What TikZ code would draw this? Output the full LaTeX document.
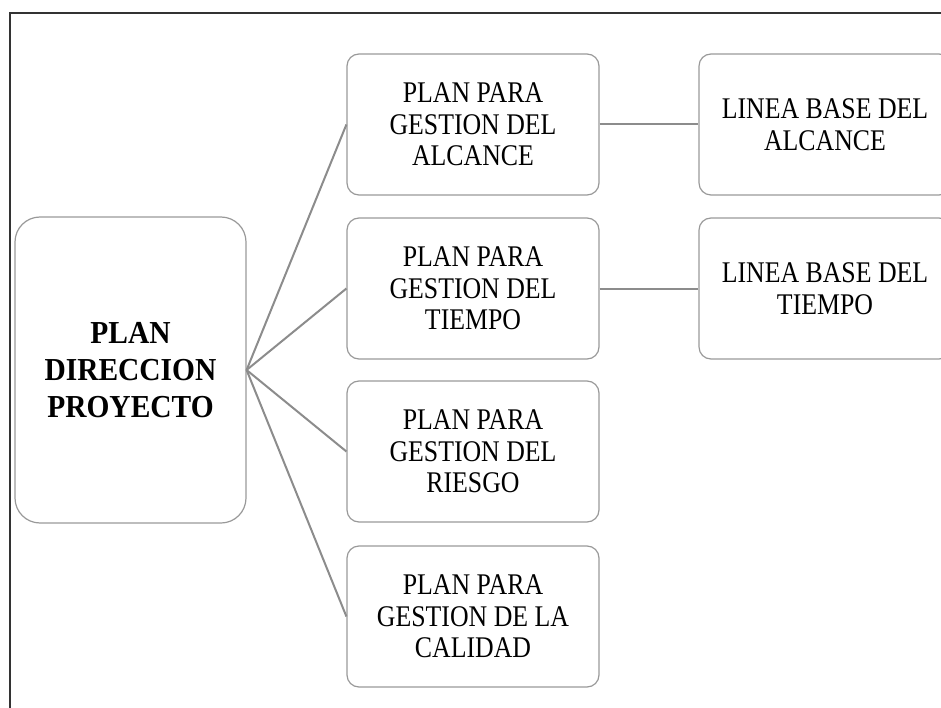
\documentclass[tikz,border=0pt]{standalone}
\usepackage{fontspec}
\setmainfont{Liberation Serif}[FakeStretch=0.86]
\newfontfamily\rootfont{Liberation Serif}[FakeStretch=0.92]

\begin{document}
\begin{tikzpicture}[x=1pt,y=-1pt]

	\tikzstyle{box_root} = [draw=black!40, line width=1.2pt, rounded corners=25pt, minimum width=231pt, minimum height=306pt, inner sep=0pt, align=center, font=\rootfont\bfseries\fontsize{32}{37}\selectfont]
	\tikzstyle{box_plan} = [draw=black!40, line width=1.2pt, rounded corners=12pt, minimum width=252pt, minimum height=141pt, inner sep=0pt, align=center, font=\fontsize{30}{31.5}\selectfont]
	\tikzstyle{link} = [draw=black!45, line width=2pt]

	\clip (0,0) rectangle (941,708);
	\draw[line width=1.5pt, black!80] (10,708) -- (10,13) -- (941,13);

%------------------------------------------------------------
	\node[box_root] (root) at (130.5,370) {PLAN\\DIRECCION\\PROYECTO};

%------------------------------------------------------------

	\node[box_plan] (p0) at (473,124.5) {PLAN PARA\\GESTION DEL\\ALCANCE};
	\node[box_plan] (p1) at (473,288.5) {PLAN PARA\\GESTION DEL\\TIEMPO};
	\node[box_plan] (p2) at (473,451.5) {PLAN PARA\\GESTION DEL\\RIESGO};
	\node[box_plan] (p3) at (473,616.5) {PLAN PARA\\GESTION DE LA\\CALIDAD};

%------------------------------------------------------------

	\node[box_plan] (b0) at (825,124.5) {LINEA BASE DEL\\ALCANCE};
	\node[box_plan] (b1) at (825,288.5) {LINEA BASE DEL\\TIEMPO};

%------------------------------------------------------------

	\foreach \i in {0,...,3}
		\path[link] (root.east) -- (p\i.west);

	\path[link] (p0.east) -- (b0.west);
	\path[link] (p1.east) -- (b1.west);

\end{tikzpicture}
\end{document}
